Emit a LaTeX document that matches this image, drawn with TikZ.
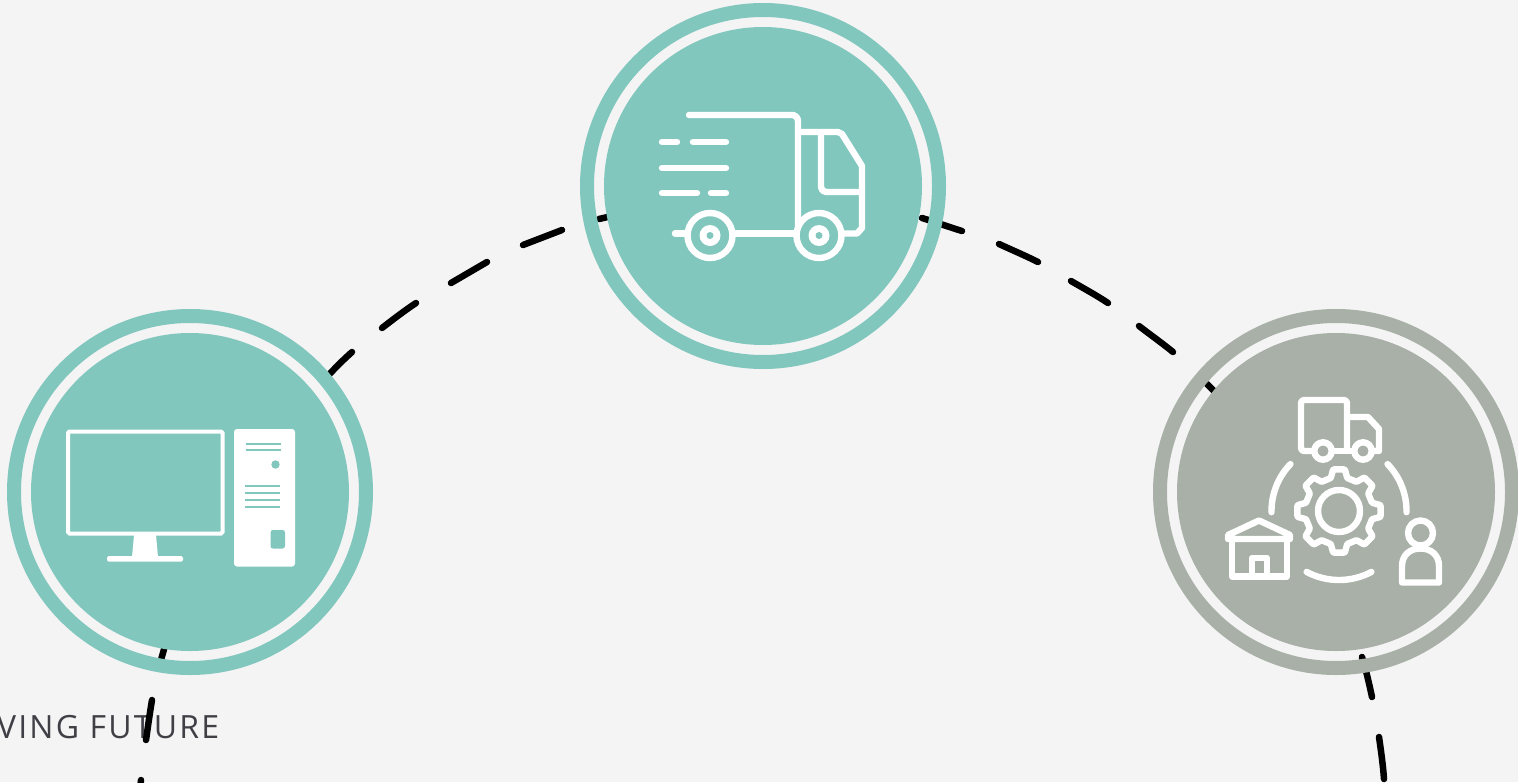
\documentclass[tikz,border=0pt]{standalone}
\usepackage{fontspec}
\setmainfont{Open Sans}
\newfontfamily\captionfont[LetterSpace=7]{Open Sans}
\definecolor{teal1}{HTML}{82C7BE}
\definecolor{grey1}{HTML}{A8B0A8}
\definecolor{bg1}{HTML}{F4F4F4}
\definecolor{txt1}{HTML}{3F3F46}
\tikzset{
  dashseg/.style={line width=6.5pt,line cap=round,black},
  ring/.style={line width=14pt,draw=#1,fill=none},
  disk/.style={fill=#1,draw=none},
  iconline/.style={draw=white,line width=6.4pt,line cap=round,line join=round},
  thinline/.style={draw=teal1,line width=2.6pt},
}
\begin{document}
\begin{tikzpicture}[x=1pt,y=-1pt]
\useasboundingbox (0,0) rectangle (1518,782);
\fill[bg1] (0,0) rectangle (1518,782);
\clip (0,0) rectangle (1518,782);
\node[anchor=base east,inner sep=0pt,text=txt1,font=\captionfont\fontsize{32}{32}\selectfont] (caption) at (219.5,738) {VING FUTURE};
% dashes
\draw[dashseg] (141,780) -- (139,800);
\draw[dashseg] (146,740) .. controls (148,726) and (150,712) .. (152,700);
\draw[dashseg] (168,635) -- (161,660);
\draw[dashseg] (326,378) .. controls (334,369) and (343,360) .. (352,352);
\draw[dashseg] (382,328) .. controls (393,319.5) and (404,311) .. (416,303);
\draw[dashseg] (451,283) .. controls (463,276) and (475,269) .. (487,262);
\draw[dashseg] (523,245) .. controls (536,240) and (549,235) .. (562,230);
\draw[dashseg] (599,219) -- (625,213);
\draw[dashseg] (922,218) .. controls (935,222) and (949,227) .. (962,231);
\draw[dashseg] (999,244) .. controls (1012,250) and (1025,255.5) .. (1038,262);
\draw[dashseg] (1071,281) .. controls (1083,288) and (1096,295) .. (1108,303);
\draw[dashseg] (1139,326) .. controls (1150,334.5) and (1162,343) .. (1173,352);
\draw[dashseg] (1207,384) -- (1225,402);
\draw[dashseg] (1362,657) .. controls (1366,670) and (1369,683) .. (1372,697);
\draw[dashseg] (1379,737) .. controls (1381,751) and (1383,765) .. (1384,779);
% circles
\fill[disk=teal1] (190,492) circle (159);
\draw[ring=teal1] (190,492) circle (176);
\fill[disk=teal1] (763,186) circle (159);
\draw[ring=teal1] (763,186) circle (176);
\fill[disk=grey1] (1336,492) circle (159);
\draw[ring=grey1] (1336,492) circle (176);
% computer
\draw[white,line width=4pt,rounded corners=1.5pt] (68,431.5) rectangle (222.5,533.5);
\fill[white] (134,535) -- (156,535) -- (158,557) -- (132,557) -- cycle;
\fill[white,rounded corners=1.5pt] (107,556) rectangle (183,561.5);
\fill[white,rounded corners=3pt] (234,429) rectangle (295,566.5);
\draw[thinline] (246,444) -- (281,444) (246,450) -- (281,450);
\fill[teal1] (275.5,464.5) circle (4.2);
\draw[thinline] (245,486) -- (280,486) (245,493) -- (280,493) (245,500) -- (280,500) (245,507) -- (280,507);
\fill[teal1,rounded corners=2.5pt] (270.5,530) rectangle (285,548.5);
% delivery truck
\begin{scope}[iconline]
\draw[rounded corners=6pt] (689,115) -- (798,115) -- (798,230);
\draw (798,132) -- (838,132) -- (842,134) -- (862,166) -- (862,228) -- (857,233.5) -- (844,233.5);
\draw[rounded corners=5pt] (821,133) -- (821,192) -- (862,192);
\draw (735,233.5) -- (795,233.5);
\draw (675,233.5) -- (687,233.5);
\draw (662,142) -- (677,142) (693,142) -- (726,142);
\draw (662,168) -- (726,168);
\draw (662,193) -- (697,193) (711,193) -- (726,193);
\foreach \wx in {710,819}{
  \draw[fill=teal1] (\wx,235.5) circle (22.5);
  \fill[white] (\wx,235.5) circle (10.5);
  \fill[teal1] (\wx,235.5) circle (3.5);
}
\end{scope}
% logistics icon
\begin{scope}[iconline]
\draw[rounded corners=3pt] (1313,451) -- (1301,451) -- (1301,400) -- (1347,400) -- (1347,451);
\draw (1333,451) -- (1353,451);
\draw (1347,417) -- (1368,417) -- (1379,429) -- (1379,451) -- (1373,451);
\draw[fill=grey1] (1323,451) circle (8.7);
\draw[fill=grey1] (1363,451) circle (8.7);
\begin{scope}[shift={(1339,511)}]
\draw[rounded corners=0.8pt] (-14:34) \foreach \a in {0,45,...,315}{ -- (\a-14:34) -- (\a-8:42) -- (\a+8:42) -- (\a+14:34) } -- cycle;
\draw (0,0) circle (21);
\draw plot[domain=224:179,samples=24] ({67.5*cos(\x)},{67.5*sin(\x)});
\draw plot[domain=-44:1,samples=24] ({67.5*cos(\x)},{67.5*sin(\x)});
\draw plot[domain=118:62,samples=24] ({69*cos(\x)},{69*sin(\x)});
\end{scope}
\draw (1228,539) -- (1228,535) -- (1259,520.5) -- (1290,535) -- (1290,539) -- cycle;
\draw (1232,539) -- (1232,576.5) -- (1287,576.5) -- (1287,539);
\draw (1252,576) -- (1252,558) -- (1267,558) -- (1267,576);
\draw (1420.5,533) circle (12.5);
\draw (1402,582.5) -- (1402,566) .. controls (1402,555) and (1410,548.5) .. (1420.5,548.5) .. controls (1431,548.5) and (1439,555) .. (1439,566) -- (1439,582.5) -- cycle;
\end{scope}
\end{tikzpicture}
\end{document}
